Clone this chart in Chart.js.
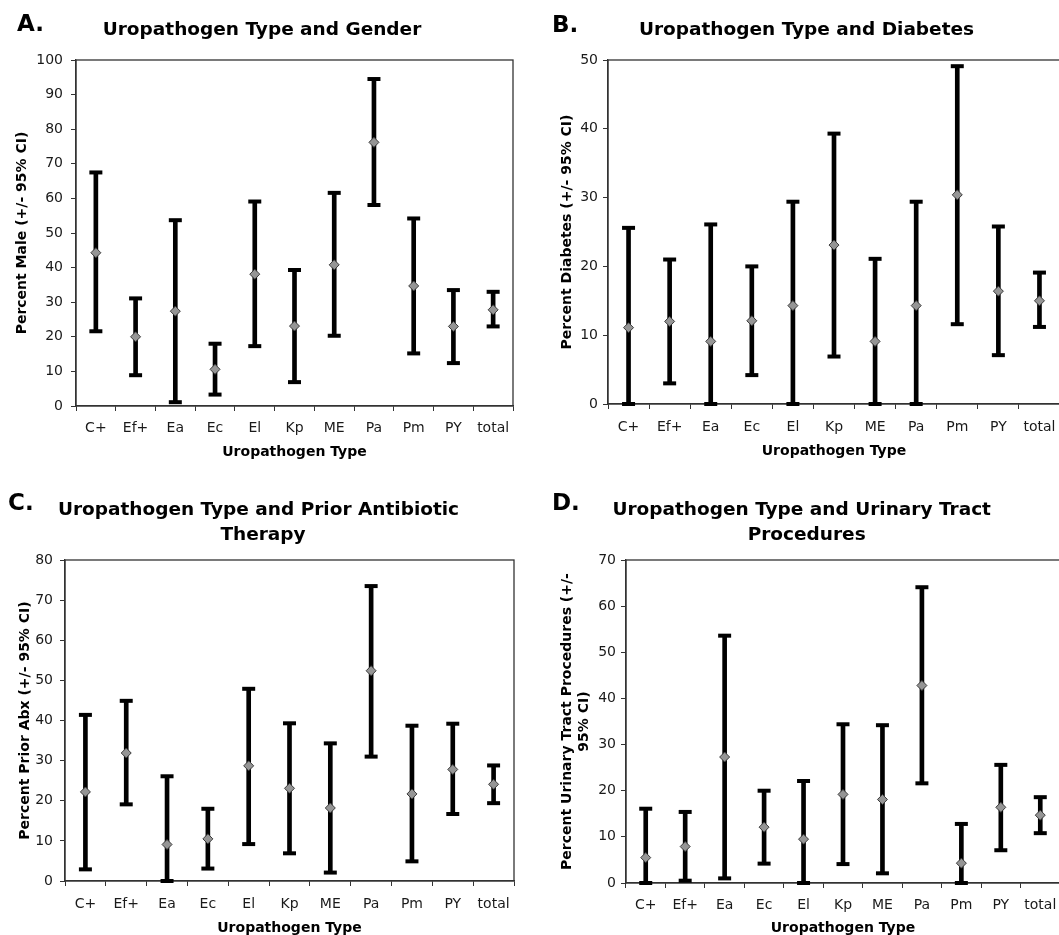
<!DOCTYPE html>
<html>
<head>
<meta charset="utf-8">
<script src="https://cdn.jsdelivr.net/npm/chart.js@4/dist/chart.umd.min.js"></script>
<style>
  html, body { margin: 0; padding: 0; background: #fff; overflow: hidden; width: 1059px; height: 935px; }
  .panel { position: absolute; }
  .txt { position: absolute; font-family: 'DejaVu Sans', sans-serif; font-weight: bold; color: #000; white-space: nowrap; }
  .letter { font-size: 23px; line-height: 28px; }
  .title { font-size: 18.5px; line-height: 22px; width: 600px; text-align: center; }
</style>
</head>
<body>
<script>
// ---------- DATA ----------
const categories = ['C+', 'Ef+', 'Ea', 'Ec', 'El', 'Kp', 'ME', 'Pa', 'Pm', 'PY', 'total'];

// A. Gender (percent male)
const genderMean = [44.3, 20.0, 27.4, 10.6, 38.1, 23.1, 40.8, 76.2, 34.7, 23.0, 27.8];
const genderLow  = [21.6, 8.9, 1.1, 3.3, 17.3, 6.9, 20.3, 58.1, 15.2, 12.4, 23.0];
const genderHigh = [67.5, 31.1, 53.7, 18.0, 59.1, 39.3, 61.6, 94.5, 54.2, 33.5, 33.0];

// B. Diabetes
const diabetesMean = [11.1, 12.0, 9.1, 12.1, 14.3, 23.1, 9.1, 14.3, 30.4, 16.4, 15.0];
const diabetesLow  = [0, 3.0, 0, 4.2, 0, 6.9, 0, 0, 11.6, 7.1, 11.2];
const diabetesHigh = [25.6, 21.0, 26.1, 20.0, 29.4, 39.3, 21.1, 29.4, 49.1, 25.8, 19.1];

// C. Prior antibiotic therapy
const abxMean = [22.2, 31.9, 9.1, 10.5, 28.7, 23.1, 18.2, 52.4, 21.7, 27.8, 24.1];
const abxLow  = [2.9, 19.1, 0, 3.1, 9.2, 6.9, 2.1, 31.0, 4.9, 16.7, 19.4];
const abxHigh = [41.4, 44.9, 26.1, 18.0, 47.9, 39.3, 34.3, 73.5, 38.7, 39.2, 28.8];

// D. Urinary tract procedures
const procMean = [5.5, 7.9, 27.3, 12.1, 9.5, 19.2, 18.1, 42.8, 4.3, 16.4, 14.7];
const procLow  = [0, 0.5, 1.0, 4.2, 0, 4.1, 2.1, 21.6, 0, 7.1, 10.8];
const procHigh = [16.1, 15.4, 53.6, 20.0, 22.1, 34.4, 34.2, 64.1, 12.8, 25.6, 18.6];

// y axis maxima (ticks every 10)
const yMaxA = 100, yMaxB = 50, yMaxC = 80, yMaxD = 70;
const yStep = 10;

// ---------- LAYOUT ----------
const panels = [
  { letter: 'A.', titleLines: [['Uropathogen Type and Gender', 262, 18]],
    yTitle: 'Percent Male (+/- 95% CI)', mean: genderMean, low: genderLow, high: genderHigh, ymax: yMaxA,
    box: { left: 0, top: 0, width: 530, height: 465 }, plot: { left: 76, top: 60, right: 513, bottom: 406 },
    letterPos: [17, 9], yTitlePad: 14, yTickPad: 8, xTickPad: 9, xTitlePad: 4.5 },
  { letter: 'B.', titleLines: [['Uropathogen Type and Diabetes', 806.5, 18]],
    yTitle: 'Percent Diabetes (+/- 95% CI)', mean: diabetesMean, low: diabetesLow, high: diabetesHigh, ymax: yMaxB,
    box: { left: 530, top: 0, width: 545, height: 465 }, plot: { left: 78, top: 60, right: 530, bottom: 404 },
    letterPos: [552, 10], yTitlePad: 28.5, yTickPad: 5, xTickPad: 10, xTitlePad: 5 },
  { letter: 'C.', titleLines: [['Uropathogen Type and Prior Antibiotic', 258.5, 498], ['Therapy', 263, 523]],
    yTitle: 'Percent Prior Abx (+/- 95% CI)', mean: abxMean, low: abxLow, high: abxHigh, ymax: yMaxC,
    box: { left: 0, top: 470, width: 530, height: 475 }, plot: { left: 65, top: 90, right: 514, bottom: 411 },
    letterPos: [8, 488], yTitlePad: 16.5, yTickPad: 7, xTickPad: 10, xTitlePad: 8.5 },
  { letter: 'D.', titleLines: [['Uropathogen Type and Urinary Tract', 801.7, 498], ['Procedures', 806.7, 523]],
    yTitle: ['Percent Urinary Tract Procedures (+/-', '95% CI)'], mean: procMean, low: procLow, high: procHigh, ymax: yMaxD,
    box: { left: 530, top: 470, width: 545, height: 475 }, plot: { left: 96, top: 90, right: 530, bottom: 413 },
    letterPos: [552, 488], yTitlePad: 29, yTickPad: 5, xTickPad: 9, xTitlePad: 8.5 }
];

Chart.defaults.font.family = "'DejaVu Sans', sans-serif";
Chart.defaults.color = '#1a1a1a';

const frame = {
  id: 'frame',
  beforeDatasetsDraw(chart) {
    const a = chart.chartArea, ctx = chart.ctx;
    ctx.save();
    ctx.strokeStyle = '#333';
    ctx.lineWidth = 1.3;
    ctx.strokeRect(a.left, a.top, a.right - a.left, a.bottom - a.top);
    ctx.restore();
  }
};

function addText(cls, text, left, top) {
  const d = document.createElement('div');
  d.className = 'txt ' + cls;
  d.textContent = text;
  d.style.left = left + 'px';
  d.style.top = top + 'px';
  document.body.appendChild(d);
}

panels.forEach(p => {
  const c = document.createElement('canvas');
  c.className = 'panel';
  c.width = p.box.width; c.height = p.box.height;
  c.style.left = p.box.left + 'px'; c.style.top = p.box.top + 'px';
  c.style.width = p.box.width + 'px'; c.style.height = p.box.height + 'px';
  document.body.appendChild(c);

  addText('letter', p.letter, p.letterPos[0], p.letterPos[1]);
  p.titleLines.forEach(([t, cx, top]) => addText('title', t, cx - 300, top));

  const xAxisH = p.box.height - p.plot.bottom;
  new Chart(c, {
    data: {
      labels: categories,
      datasets: [
        { type: 'line', label: 'mean', data: p.mean, showLine: false, pointStyle: 'rectRot',
          pointRadius: 5, pointBackgroundColor: '#959595', pointBorderColor: '#3a3a3a', pointBorderWidth: 1, clip: false },
        { type: 'line', label: 'upper', data: p.high, showLine: false, pointStyle: 'line',
          pointRadius: 6.5, pointBorderColor: '#000', pointBorderWidth: 4, clip: false },
        { type: 'line', label: 'lower', data: p.low, showLine: false, pointStyle: 'line',
          pointRadius: 6.5, pointBorderColor: '#000', pointBorderWidth: 4, clip: false },
        { type: 'bar', label: 'CI', data: p.low.map((l, i) => [l, p.high[i]]), backgroundColor: '#000',
          barThickness: 4, borderWidth: 0, borderSkipped: false, clip: false }
      ]
    },
    options: {
      responsive: false,
      animation: false,
      events: [],
      layout: { padding: { left: 0, top: p.plot.top, right: p.box.width - p.plot.right, bottom: 0 } },
      plugins: { legend: { display: false }, tooltip: { enabled: false }, title: { display: false } },
      scales: {
        x: {
          type: 'category', offset: true,
          grid: { offset: true, drawOnChartArea: false, drawTicks: true, tickLength: 5, color: '#333', lineWidth: 1 },
          border: { display: true, color: '#333', width: 1.3 },
          ticks: { font: { size: 14 }, color: '#1a1a1a', padding: p.xTickPad, maxRotation: 0, autoSkip: false },
          title: { display: true, text: 'Uropathogen Type', font: { size: 14, weight: 'bold' }, color: '#000',
                   padding: { top: 0, bottom: p.xTitlePad } },
          afterFit(scale) { scale.height = xAxisH; }
        },
        y: {
          min: 0, max: p.ymax,
          grid: { drawOnChartArea: false, drawTicks: true, tickLength: 5, color: '#333', lineWidth: 1 },
          border: { display: true, color: '#333', width: 1.3 },
          ticks: { stepSize: yStep, font: { size: 14 }, color: '#1a1a1a', padding: p.yTickPad },
          title: { display: true, text: p.yTitle, font: { size: 14, weight: 'bold' }, color: '#000',
                   padding: { top: p.yTitlePad, bottom: 0 } },
          afterFit(scale) { scale.width = p.plot.left; }
        }
      }
    },
    plugins: [frame]
  });
});
</script>
</body>
</html>
